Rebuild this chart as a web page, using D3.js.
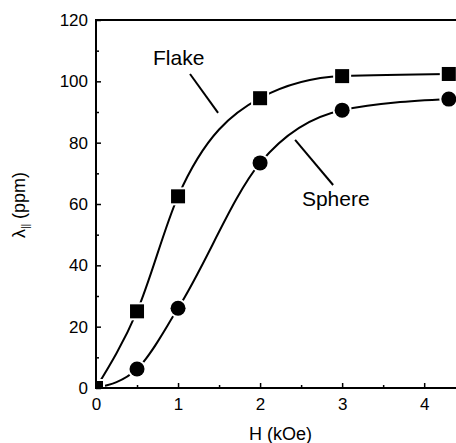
<!DOCTYPE html>
<html>
<head>
<meta charset="utf-8">
<script src="https://cdn.jsdelivr.net/npm/d3@7"></script>
<style>
  body { margin: 0; background: #fff; }
  svg { display: block; font-family: "Liberation Sans", Arial, sans-serif; }
</style>
</head>
<body>
<div id="chart"></div>
<script>
// field values (kOe)
var fieldFlake = [0, 0.5, 1, 2, 3, 4.3];
var fieldSphere = [0, 0.5, 1, 2, 3, 4.3];
// magnetostriction (ppm)
var lambdaFlake = [0, 25, 62.5, 94.5, 101.7, 102.4];
var lambdaSphere = [0, 6.2, 26, 73.4, 90.6, 94.2];

var xTicks = [0, 1, 2, 3, 4];
var yTicks = [0, 20, 40, 60, 80, 100, 120];

var width = 456, height = 443;
var margin = { top: 20, right: -1, bottom: 55, left: 96 };

var svg = d3.select('#chart').append('svg')
  .attr('width', width)
  .attr('height', height);

var x = d3.scaleLinear()
  .domain([0, 4.4])
  .range([margin.left, width - margin.right]);

var y = d3.scaleLinear()
  .domain([0, 120])
  .range([height - margin.bottom, margin.top]);

svg.append('clipPath').attr('id', 'plot-clip')
  .append('rect')
  .attr('x', x(0)).attr('y', y(120))
  .attr('width', x(4.4) - x(0)).attr('height', y(0) - y(120));

var plot = svg.append('g').attr('clip-path', 'url(#plot-clip)');

var line = d3.line()
  .x(d => x(d[0]))
  .y(d => y(d[1]))
  .curve(d3.curveMonotoneX);

function series(h, v) {
  return h.map((d, i) => [d, v[i]]);
}

var flake = series(fieldFlake, lambdaFlake);
var sphere = series(fieldSphere, lambdaSphere);

// fit curves
[flake, sphere].forEach(function (s) {
  plot.append('path')
    .datum(s)
    .attr('d', line)
    .attr('fill', 'none')
    .attr('stroke', '#000')
    .attr('stroke-width', 2);
});

// circles (sphere), white halo breaks the curve around each marker
plot.selectAll('.sphere')
  .data(sphere)
  .join('circle')
  .attr('class', 'sphere')
  .attr('cx', d => x(d[0]))
  .attr('cy', d => y(d[1]))
  .attr('r', 7.5)
  .attr('fill', '#000')
  .attr('stroke', '#fff')
  .attr('stroke-width', 4)
  .attr('paint-order', 'stroke');

plot.selectAll('.flake')
  .data(flake)
  .join('rect')
  .attr('class', 'flake')
  .attr('x', d => x(d[0]) - 7)
  .attr('y', d => y(d[1]) - 7)
  .attr('width', 14)
  .attr('height', 14)
  .attr('fill', '#000')
  .attr('stroke', '#fff')
  .attr('stroke-width', 4)
  .attr('paint-order', 'stroke');

// axes, ticks pointing inward
var xAxis = svg.append('g')
  .attr('transform', `translate(0,${y(0)})`)
  .call(d3.axisBottom(x).tickValues(xTicks).tickSize(-5).tickPadding(10).tickFormat(d3.format('d')));

svg.append('g')
  .attr('transform', `translate(0,${y(0)})`)
  .call(d3.axisBottom(x).tickValues([0.5, 1.5, 2.5, 3.5]).tickSize(-3).tickFormat(''));

var yAxis = svg.append('g')
  .attr('transform', `translate(${x(0)},0)`)
  .call(d3.axisLeft(y).tickValues(yTicks).tickSize(-5).tickPadding(8));

svg.append('g')
  .attr('transform', `translate(${x(0)},0)`)
  .call(d3.axisLeft(y).tickValues([10, 30, 50, 70, 90, 110]).tickSize(-3).tickFormat(''));

svg.selectAll('.domain').remove();
svg.selectAll('.tick line').attr('stroke', '#000').attr('stroke-width', 1.5);
svg.selectAll('.tick text')
  .attr('fill', '#000')
  .style('font-size', '17px')
  .style('font-family', '"Liberation Sans", Arial, sans-serif');

// frame (right side falls outside the picture)
svg.append('rect')
  .attr('x', x(0)).attr('y', y(120))
  .attr('width', x(4.4) - x(0) + 5).attr('height', y(0) - y(120))
  .attr('fill', 'none')
  .attr('stroke', '#000')
  .attr('stroke-width', 2);

// axis titles
svg.append('text')
  .attr('x', (x(0) + x(4.4)) / 2 + 4)
  .attr('y', 440)
  .attr('text-anchor', 'middle')
  .style('font-size', '18px')
  .text('H (kOe)');

var yTitle = svg.append('text')
  .attr('transform', 'translate(25,205) rotate(-90)')
  .attr('text-anchor', 'middle')
  .style('font-size', '18px');
yTitle.append('tspan').text('λ');
yTitle.append('tspan').attr('dy', 4).style('font-size', '10px').text('||');
yTitle.append('tspan').attr('dy', -4).text(' (ppm)');

// curve labels with leader lines
var labels = [
  { text: 'Flake', at: [0.695, 105.3], from: [1.146, 102.4], to: [1.488, 89.7] },
  { text: 'Sphere', at: [2.51, 59.3], from: [2.427, 80.9], to: [2.89, 66.2] }
];

labels.forEach(function (d) {
  svg.append('text')
    .attr('x', x(d.at[0]))
    .attr('y', y(d.at[1]))
    .style('font-size', '21px')
    .text(d.text);
  svg.append('line')
    .attr('x1', x(d.from[0])).attr('y1', y(d.from[1]))
    .attr('x2', x(d.to[0])).attr('y2', y(d.to[1]))
    .attr('stroke', '#000')
    .attr('stroke-width', 2);
});
</script>
</body>
</html>
